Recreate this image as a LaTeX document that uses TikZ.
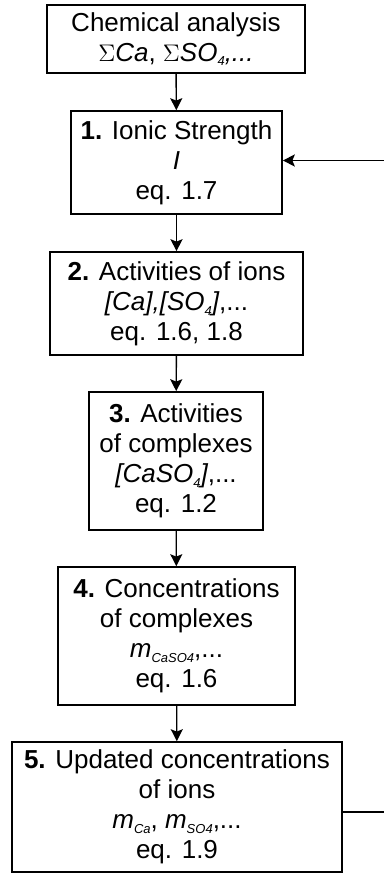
\documentclass[tikz,border=0pt]{standalone}
\usepackage{fontspec}
\setmainfont{Liberation Sans}
\usetikzlibrary{arrows.meta}
\newcommand{\subtxt}[1]{\raisebox{-0.35ex}{\fontsize{6.5}{6.5}\selectfont\itshape #1}}
\begin{document}
\begin{tikzpicture}[x=1pt,y=1pt,
    box/.style={draw, line width=0.8pt, align=center, inner sep=0pt,
      font=\fontsize{13}{15}\selectfont},
    flow/.style={-{Stealth[length=6pt,width=6pt,inset=1.2pt]}, line width=0.7pt}]
  \useasboundingbox (0,0) rectangle (192,-441);
  % boxes of the iteration
  \node[box, minimum width=129pt, minimum height=34pt] (chem) at (88,-19.5)
    {Chemical analysis\\$\Sigma$\textit{Ca}, $\Sigma$\textit{SO}\subtxt{4}\textit{,...}};
  \node[box, minimum width=105.5pt, minimum height=51.5pt] (ionic) at (88.25,-81.25)
    {\textbf{1.} Ionic Strength\\\textit{I}\\eq. 1.7};
  \node[box, minimum width=126.5pt, minimum height=51.5pt] (actions) at (88.25,-151.75)
    {\textbf{2.} Activities of ions\\\textit{[Ca],[SO}\subtxt{4}\textit{]},...\\eq. 1.6, 1.8};
  \node[box, minimum width=87pt, minimum height=69pt] (actcompl) at (88,-230.5)
    {\textbf{3.} Activities\\of complexes\\\textit{[CaSO}\subtxt{4}\textit{]},...\\eq. 1.2};
  \node[box, minimum width=118.5pt, minimum height=69pt] (conccompl) at (88.25,-318)
    {\textbf{4.} Concentrations\\of complexes\\\textit{m}\subtxt{CaSO4},...\\eq. 1.6};
  \node[box, minimum width=165pt, minimum height=65pt] (concions) at (88.5,-403.5)
    {\textbf{5.} Updated concentrations\\of ions\\\textit{m}\subtxt{Ca}, \textit{m}\subtxt{SO4},...\\eq. 1.9};
  % arrows
  \draw[flow] (chem) -- (ionic);
  \draw[flow] (ionic) -- (actions);
  \draw[flow] (actions) -- (actcompl);
  \draw[flow] (actcompl) -- (conccompl);
  \draw[flow] (conccompl) -- (concions);
  \draw[flow] ([yshift=-2.5pt]concions.east) -- ++(23pt,0) |- ([yshift=1pt]ionic.east);
\end{tikzpicture}
\end{document}
